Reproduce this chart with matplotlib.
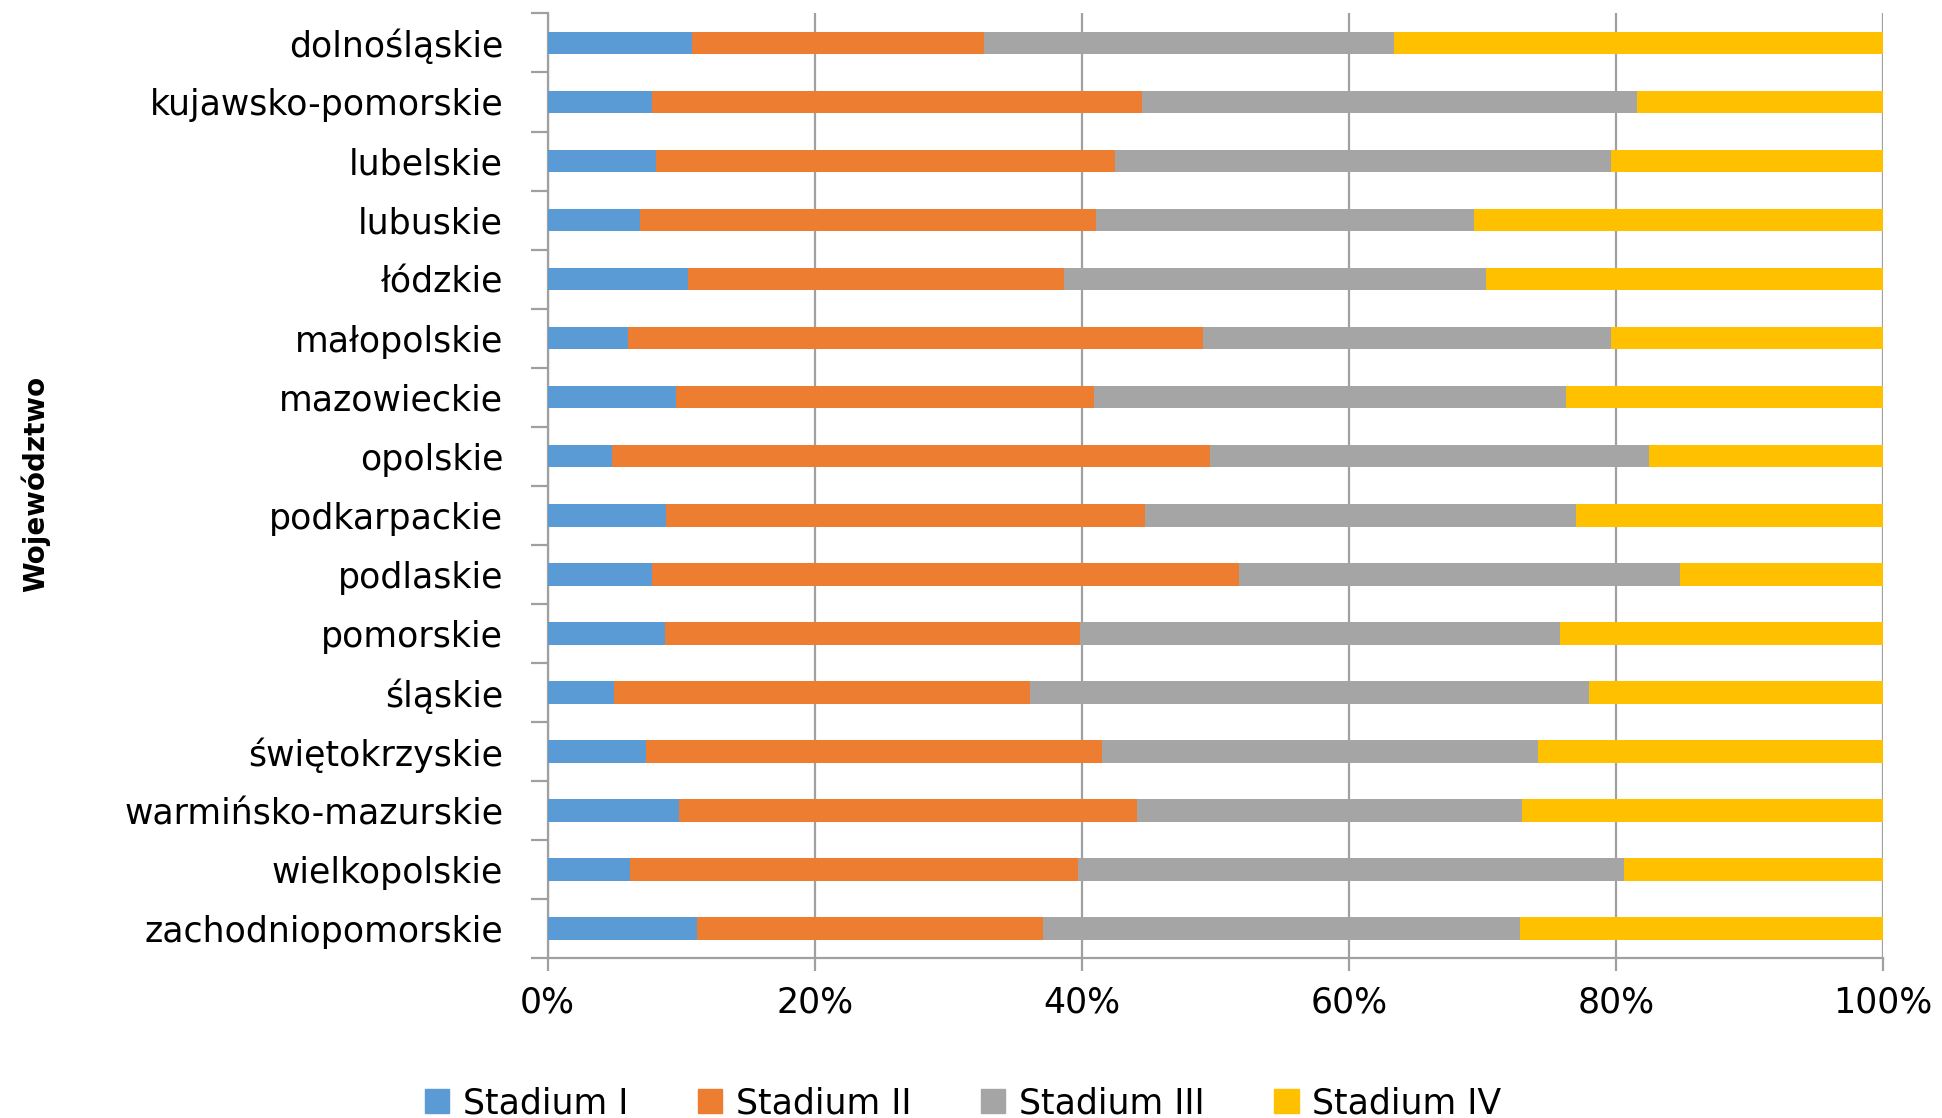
import numpy as np
import matplotlib.pyplot as plt
from matplotlib.patches import Patch

# Data: share of cases by stage (%) per voivodeship
voivodeships = ["dolnośląskie", "kujawsko-pomorskie", "lubelskie", "lubuskie",
                "łódzkie", "małopolskie", "mazowieckie", "opolskie",
                "podkarpackie", "podlaskie", "pomorskie", "śląskie",
                "świętokrzyskie", "warmińsko-mazurskie", "wielkopolskie",
                "zachodniopomorskie"]
stadium_1 = [10.8, 7.8, 8.1, 6.9, 10.5, 6.0, 9.6, 4.8, 8.9, 7.8, 8.8, 5.0, 7.4, 9.8, 6.2, 11.2]
stadium_2 = [21.9, 36.7, 34.4, 34.2, 28.2, 43.1, 31.3, 44.8, 35.8, 44.0, 31.1, 31.1, 34.1, 34.3, 33.5, 25.9]
stadium_3 = [30.7, 37.1, 37.1, 28.3, 31.6, 30.5, 35.4, 32.9, 32.3, 33.0, 35.9, 41.9, 32.7, 28.9, 40.9, 35.7]
stadium_4 = [36.6, 18.4, 20.4, 30.6, 29.7, 20.4, 23.7, 17.5, 23.0, 15.2, 24.2, 22.0, 25.8, 27.0, 19.4, 27.2]
series_names = ["Stadium I", "Stadium II", "Stadium III", "Stadium IV"]
colors = ["#5B9BD5", "#ED7D31", "#A5A5A5", "#FFC000"]
x_ticks = [0, 20, 40, 60, 80, 100]

grid_color = "#A0A0A0"
font_size = 25

fig = plt.figure(figsize=(19.42, 11.18), dpi=100)
ax = fig.add_axes([0.282, 0.143, 0.6876, 0.845])

y = np.arange(len(voivodeships))
left = np.zeros(len(voivodeships))
for vals, name, col in zip([stadium_1, stadium_2, stadium_3, stadium_4], series_names, colors):
    vals = np.array(vals)
    ax.barh(y, vals, left=left, height=0.38, color=col, label=name, zorder=3)
    left += vals

ax.set_xlim(0, 100)
ax.set_ylim(len(voivodeships) - 0.5, -0.5)

# x axis: percent ticks and vertical gridlines
ax.set_xticks(x_ticks)
ax.set_xticklabels([f"{v}%" for v in x_ticks], fontsize=font_size)
ax.xaxis.grid(True, color=grid_color, linewidth=1.6, zorder=0)
ax.tick_params(axis="x", length=9, width=1.6, color=grid_color, pad=11)

# y axis: labels in the middle, tick marks on the category borders
ax.set_yticks(y)
ax.set_yticklabels(voivodeships, fontsize=font_size)
ax.set_yticks(np.arange(-0.5, len(voivodeships)), minor=True)
ax.tick_params(axis="y", which="major", length=0, pad=32)
ax.tick_params(axis="y", which="minor", length=12, width=1.6, color=grid_color)

for side in ["top", "right"]:
    ax.spines[side].set_visible(False)
for side in ["left", "bottom"]:
    ax.spines[side].set_color(grid_color)
    ax.spines[side].set_linewidth(1.6)

fig.text(0.018, 0.567, "Województwo", rotation=90, fontsize=20, fontweight="bold",
         ha="center", va="center")

handles = [Patch(color=c, label=n) for c, n in zip(colors, series_names)]
fig.legend(handles=handles, loc="center", bbox_to_anchor=(0.496, 0.013), ncol=4,
           frameon=False, fontsize=font_size, handlelength=0.7, handleheight=0.7,
           handletextpad=0.4, columnspacing=2.0, borderpad=0)

fig.savefig("out.png", dpi=100)
